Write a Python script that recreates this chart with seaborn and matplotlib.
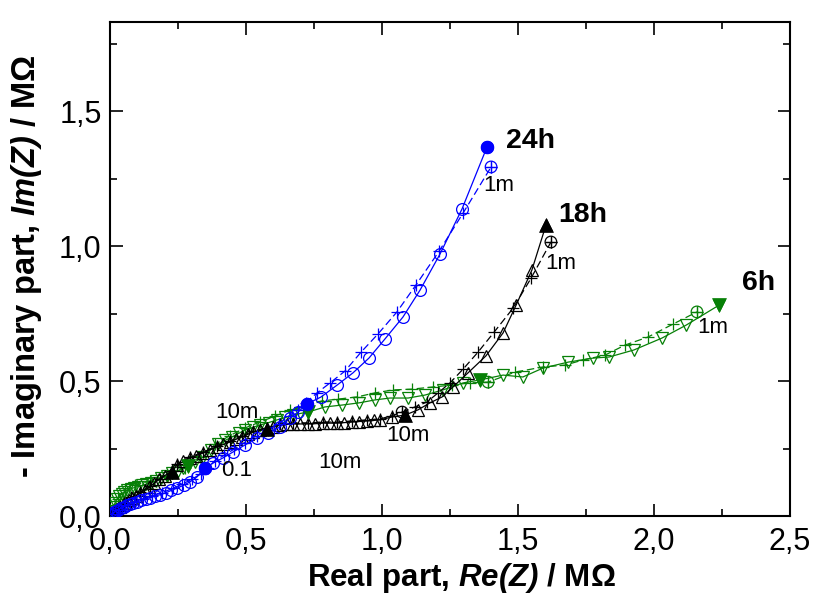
import matplotlib
matplotlib.use("Agg")
import matplotlib.pyplot as plt
from matplotlib.ticker import MultipleLocator, FuncFormatter
import seaborn as sns

# ---- impedance spectra, Nyquist representation (MOhm) ----
# 24 h: measured
re_24h = [0.005, 0.010, 0.016, 0.023, 0.031, 0.040, 0.050, 0.061, 0.073, 0.086, 0.100, 0.115,
          0.131, 0.148, 0.166, 0.185, 0.205, 0.226, 0.248, 0.271, 0.295, 0.320, 0.349,
          0.379, 0.415, 0.452, 0.496, 0.540, 0.581, 0.625, 0.662, 0.691, 0.724, 0.776, 0.835,
          0.893, 0.952, 1.011, 1.077, 1.140, 1.213, 1.294, 1.386]
im_24h = [0.004, 0.009, 0.014, 0.019, 0.024, 0.029, 0.034, 0.039, 0.044, 0.048, 0.053, 0.058,
          0.063, 0.068, 0.074, 0.079, 0.086, 0.095, 0.104, 0.114, 0.127, 0.145, 0.178,
          0.196, 0.215, 0.237, 0.263, 0.289, 0.307, 0.330, 0.363, 0.385, 0.415, 0.441, 0.485,
          0.530, 0.585, 0.656, 0.737, 0.837, 0.970, 1.137, 1.367]
# 24 h: fitted
re_24h_fit = [0.007, 0.030, 0.056, 0.087, 0.120, 0.156, 0.193, 0.230, 0.266, 0.302, 0.334, 0.360,
              0.385, 0.420, 0.455, 0.495, 0.540, 0.580, 0.620, 0.660, 0.690, 0.720, 0.761, 0.809,
              0.864, 0.923, 0.985, 1.055, 1.125, 1.210, 1.298, 1.401]
im_24h_fit = [0.008, 0.024, 0.040, 0.052, 0.063, 0.075, 0.087, 0.102, 0.118, 0.137, 0.156, 0.178,
              0.205, 0.225, 0.247, 0.272, 0.298, 0.318, 0.342, 0.372, 0.393, 0.420, 0.456, 0.493,
              0.537, 0.607, 0.674, 0.756, 0.856, 0.981, 1.122, 1.293]

# 18 h: measured
re_18h = [0.006, 0.012, 0.019, 0.027, 0.036, 0.046, 0.057, 0.069, 0.082, 0.096, 0.111, 0.127,
          0.144, 0.162, 0.181, 0.201, 0.228, 0.246, 0.270, 0.294, 0.318, 0.342, 0.367, 0.393,
          0.417, 0.441, 0.463, 0.485, 0.506, 0.526, 0.552, 0.577, 0.600, 0.625, 0.649, 0.673,
          0.700, 0.728, 0.755, 0.783, 0.809, 0.835, 0.862, 0.890, 0.917, 0.945, 0.969, 0.993,
          1.037, 1.085, 1.132, 1.176, 1.221, 1.261, 1.316, 1.382, 1.445, 1.493, 1.551, 1.603]
im_18h = [0.004, 0.010, 0.017, 0.025, 0.033, 0.041, 0.050, 0.058, 0.066, 0.075, 0.084, 0.095,
          0.107, 0.121, 0.136, 0.150, 0.163, 0.189, 0.202, 0.215, 0.224, 0.233, 0.245, 0.256,
          0.265, 0.274, 0.284, 0.293, 0.302, 0.311, 0.317, 0.322, 0.330, 0.337, 0.339, 0.341,
          0.341, 0.341, 0.342, 0.344, 0.344, 0.344, 0.346, 0.348, 0.350, 0.352, 0.354, 0.356,
          0.367, 0.374, 0.393, 0.419, 0.441, 0.478, 0.530, 0.593, 0.678, 0.781, 0.911, 1.078]
# 18 h: fitted
re_18h_fit = [0.011, 0.030, 0.052, 0.078, 0.111, 0.148, 0.185, 0.229, 0.247, 0.295, 0.343, 0.394,
              0.442, 0.486, 0.527, 0.578, 0.626, 0.674, 0.729, 0.784, 0.836, 0.891, 0.946, 0.994,
              1.038, 1.074, 1.121, 1.165, 1.206, 1.250, 1.298, 1.353, 1.412, 1.482, 1.548, 1.621]
im_18h_fit = [0.010, 0.028, 0.048, 0.069, 0.088, 0.110, 0.138, 0.167, 0.193, 0.219, 0.237, 0.260,
              0.278, 0.297, 0.315, 0.326, 0.341, 0.345, 0.345, 0.348, 0.348, 0.352, 0.356, 0.360,
              0.372, 0.385, 0.404, 0.422, 0.456, 0.493, 0.544, 0.607, 0.681, 0.770, 0.881, 1.015]

# 6 h: measured
re_6h = [0.004, 0.008, 0.013, 0.019, 0.026, 0.034, 0.043, 0.053, 0.064, 0.076, 0.089, 0.103,
         0.118, 0.134, 0.151, 0.169, 0.188, 0.208, 0.229, 0.251, 0.268, 0.287, 0.312, 0.342,
         0.370, 0.397, 0.423, 0.449, 0.473, 0.496, 0.524, 0.551, 0.583, 0.614, 0.645, 0.673,
         0.700, 0.728, 0.790, 0.853, 0.915, 0.974, 1.029, 1.096, 1.158, 1.224, 1.298,
         1.360, 1.445, 1.518, 1.592, 1.684, 1.776, 1.835, 1.926, 2.029, 2.118, 2.239]
im_6h = [0.008, 0.020, 0.035, 0.050, 0.063, 0.074, 0.083, 0.090, 0.096, 0.101, 0.105, 0.109,
         0.113, 0.118, 0.124, 0.131, 0.139, 0.149, 0.159, 0.168, 0.177, 0.185, 0.200, 0.219,
         0.245, 0.265, 0.280, 0.293, 0.306, 0.319, 0.328, 0.337, 0.346, 0.356, 0.365, 0.374,
         0.380, 0.385, 0.404, 0.411, 0.419, 0.430, 0.437, 0.437, 0.448, 0.467, 0.493,
         0.504, 0.522, 0.515, 0.548, 0.570, 0.585, 0.589, 0.615, 0.659, 0.707, 0.781]
# 6 h: fitted
re_6h_fit = [0.011, 0.029, 0.055, 0.092, 0.147, 0.210, 0.276, 0.331, 0.386, 0.441, 0.496, 0.551,
             0.607, 0.662, 0.710, 0.779, 0.838, 0.908, 0.974, 1.040, 1.110, 1.188, 1.257, 1.324,
             1.390, 1.489, 1.592, 1.673, 1.739, 1.820, 1.893, 1.978, 2.070, 2.158]
im_6h_fit = [0.022, 0.062, 0.098, 0.114, 0.130, 0.150, 0.178, 0.220, 0.265, 0.298, 0.326, 0.348,
             0.370, 0.393, 0.404, 0.426, 0.433, 0.441, 0.456, 0.467, 0.470, 0.478, 0.485, 0.493,
             0.496, 0.533, 0.552, 0.559, 0.578, 0.596, 0.633, 0.663, 0.711, 0.756]

# highlighted frequencies (filled symbols = measured, crossed circles = fit)
re_24h_mark = [0.349, 0.724, 1.386]
im_24h_mark = [0.178, 0.415, 1.367]
re_24h_fmark = [1.401]
im_24h_fmark = [1.293]

re_18h_mark = [0.228, 0.577, 1.085, 1.603]
im_18h_mark = [0.163, 0.322, 0.374, 1.078]
re_18h_fmark = [1.074, 1.621]
im_18h_fmark = [0.385, 1.015]

re_6h_mark = [0.287, 0.728, 1.360, 2.239]
im_6h_mark = [0.185, 0.385, 0.504, 0.781]
re_6h_fmark = [1.390, 2.158]
im_6h_fmark = [0.496, 0.756]

BLUE = "#0000ff"
GREEN = "#078007"
BLACK = "#000000"

sns.set_style("ticks")
plt.rcParams["font.family"] = ["Liberation Sans", "DejaVu Sans"]
plt.rcParams["mathtext.fontset"] = "custom"
plt.rcParams["mathtext.bfit"] = "Liberation Sans:italic:bold"
plt.rcParams["mathtext.it"] = "Liberation Sans:italic:bold"
for key in ("text.color", "axes.labelcolor", "xtick.color", "ytick.color", "axes.edgecolor"):
    plt.rcParams[key] = "black"

fig = plt.figure(figsize=(8.19, 6.03), dpi=100)
ax = fig.add_axes([110 / 819, 87 / 603, 680 / 819, 494 / 603])


def spectrum(re, im, re_fit, im_fit, color, marker, ms):
    # measured: open symbols, solid line
    sns.lineplot(x=re, y=im, sort=False, estimator=None, ax=ax, color=color,
                 lw=0.9, marker=marker, ms=ms, markerfacecolor="none",
                 markeredgecolor=color, markeredgewidth=0.9, zorder=3)
    # fit: crosses, dashed line
    sns.lineplot(x=re_fit, y=im_fit, sort=False, estimator=None, ax=ax, color=color,
                 lw=0.9, ls=(0, (6, 3)), marker="+", ms=9, markeredgecolor=color,
                 markeredgewidth=0.9, zorder=3)


def marks(re, im, re_f, im_f, color, marker, ms):
    sns.scatterplot(x=re, y=im, ax=ax, color=color, marker=marker, s=ms,
                    edgecolor=color, linewidth=0.5, zorder=5)
    sns.scatterplot(x=re_f, y=im_f, ax=ax, facecolor="none", edgecolor=color,
                    marker="o", s=70, linewidth=0.9, zorder=5)
    sns.scatterplot(x=re_f, y=im_f, ax=ax, color=color, marker="+", s=70,
                    linewidth=0.9, zorder=5)


spectrum(re_6h, im_6h, re_6h_fit, im_6h_fit, GREEN, "v", 8.5)
spectrum(re_18h, im_18h, re_18h_fit, im_18h_fit, BLACK, "^", 8.5)
spectrum(re_24h, im_24h, re_24h_fit, im_24h_fit, BLUE, "o", 8.5)

marks(re_6h_mark, im_6h_mark, re_6h_fmark, im_6h_fmark, GREEN, "v", 100)
marks(re_18h_mark, im_18h_mark, re_18h_fmark, im_18h_fmark, BLACK, "^", 100)
marks(re_24h_mark, im_24h_mark, re_24h_fmark, im_24h_fmark, BLUE, "o", 85)

# annotations
ax.text(1.456, 1.389, "24h", fontsize=20.5, fontweight="bold", ha="left", va="center")
ax.text(1.647, 1.115, "18h", fontsize=20.5, fontweight="bold", ha="left", va="center")
ax.text(2.324, 0.863, "6h", fontsize=20.5, fontweight="bold", ha="left", va="center")
ax.text(1.371, 1.226, "1m", fontsize=16, ha="left", va="center")
ax.text(1.599, 0.937, "1m", fontsize=16, ha="left", va="center")
ax.text(2.158, 0.700, "1m", fontsize=16, ha="left", va="center")
ax.text(0.467, 0.385, "10m", fontsize=16, ha="center", va="center")
ax.text(0.467, 0.170, "0.1", fontsize=16, ha="center", va="center")
ax.text(0.846, 0.200, "10m", fontsize=16, ha="center", va="center")
ax.text(1.096, 0.300, "10m", fontsize=16, ha="center", va="center")

ax.set_xlim(0, 2.5)
ax.set_ylim(0, 1.83)
ax.xaxis.set_major_locator(MultipleLocator(0.5))
ax.xaxis.set_minor_locator(MultipleLocator(0.25))
ax.yaxis.set_major_locator(MultipleLocator(0.5))
ax.yaxis.set_minor_locator(MultipleLocator(0.25))
comma = FuncFormatter(lambda v, p: f"{v:.1f}".replace(".", ","))
ax.xaxis.set_major_formatter(comma)
ax.yaxis.set_major_formatter(comma)
ax.tick_params(which="both", direction="in", top=True, right=True, width=1.2,
               labelsize=22)
ax.tick_params(axis="x", which="major", pad=8)
ax.tick_params(axis="y", which="major", pad=6)
ax.tick_params(which="major", length=9)
ax.tick_params(which="minor", length=5)
for s in ax.spines.values():
    s.set_linewidth(1.5)
    s.set_color("black")

ax.set_xlabel(r"Real part, $\mathbfit{Re(Z)}$ / MΩ", fontsize=22.5, fontweight="bold", labelpad=0)
ax.xaxis.set_label_coords(0.517, -0.092)
ax.set_ylabel(r"- Imaginary part, $\mathbfit{Im(Z)}$ / MΩ", fontsize=23.5, fontweight="bold")
ax.yaxis.set_label_coords(-0.097, 0.505)

fig.savefig("out.png", dpi=100)
